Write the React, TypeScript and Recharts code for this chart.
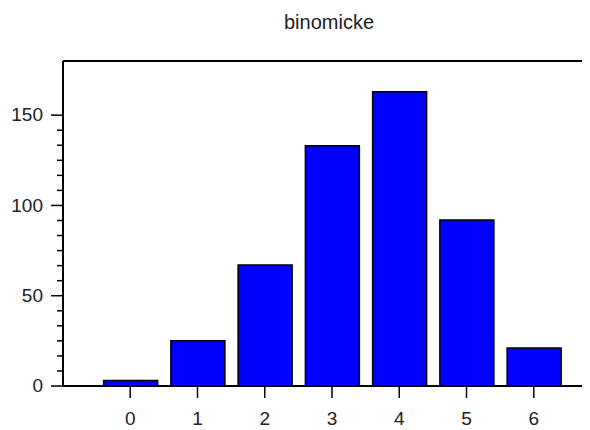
import { BarChart, Bar, XAxis, YAxis, ReferenceLine } from "recharts";

const outcomes = [0, 1, 2, 3, 4, 5, 6];
const counts = [3, 25, 67, 133, 163, 92, 21];
const majorTicks = [0, 50, 100, 150];
const minorSteps = 6;
const yMax = 180;

const data = outcomes.map((k, i) => ({ k, count: counts[i] }));

// labelled ticks plus the small unlabelled ones in between
const yTicks: number[] = [];
majorTicks.forEach((m, i) => {
  yTicks.push(m);
  const next = majorTicks[i + 1];
  if (next === undefined) return;
  for (let j = 1; j < minorSteps; j++) yTicks.push(m + ((next - m) * j) / minorSteps);
});

const FONT = '"Liberation Sans", Arial, sans-serif';
const TICK_SIZE = 12;

const YTick = (props: any) => {
  const { x, y, payload } = props;
  const major = majorTicks.includes(payload.value);
  const axisX = x + TICK_SIZE;
  return (
    <g>
      <line
        x1={axisX - (major ? TICK_SIZE : 6)}
        x2={axisX}
        y1={y}
        y2={y}
        stroke="#000"
        strokeWidth={1.5}
      />
      {major && (
        <text
          x={axisX - 20}
          y={y}
          dy="0.33em"
          textAnchor="end"
          fill="#222"
          fontSize={19}
          fontFamily={FONT}
        >
          {payload.value}
        </text>
      )}
    </g>
  );
};

export default function App() {
  return (
    <div style={{ position: "relative", width: 582, height: 422, overflow: "hidden", background: "#fff" }}>
      <div
        style={{
          position: "absolute",
          left: 221,
          top: 4,
          width: 200,
          textAlign: "center",
          fontFamily: FONT,
          fontSize: 20,
          lineHeight: "20px",
          color: "#222",
        }}
      >
        binomicke
      </div>
      <BarChart
        width={600}
        height={422}
        data={data}
        margin={{ top: 53, right: 7, bottom: 0, left: 0 }}
      >
        <XAxis
          type="number"
          dataKey="k"
          domain={[-1, 7]}
          ticks={outcomes}
          interval={0}
          height={44}
          tickSize={TICK_SIZE}
          tickMargin={14}
          axisLine={{ stroke: "#000", strokeWidth: 2 }}
          tickLine={{ stroke: "#000", strokeWidth: 1.5 }}
          tick={{ fill: "#222", fontSize: 19, fontFamily: FONT }}
        />
        <YAxis
          type="number"
          domain={[0, yMax]}
          ticks={yTicks}
          interval={0}
          width={55}
          tickSize={TICK_SIZE}
          tickMargin={0}
          tickLine={false}
          axisLine={{ stroke: "#000", strokeWidth: 2 }}
          tick={<YTick />}
        />
        <ReferenceLine y={yMax} stroke="#000" strokeWidth={2} />
        <Bar
          dataKey="count"
          barSize={54}
          fill="#0000ff"
          stroke="#000"
          strokeWidth={1.5}
          isAnimationActive={false}
        />
      </BarChart>
    </div>
  );
}
